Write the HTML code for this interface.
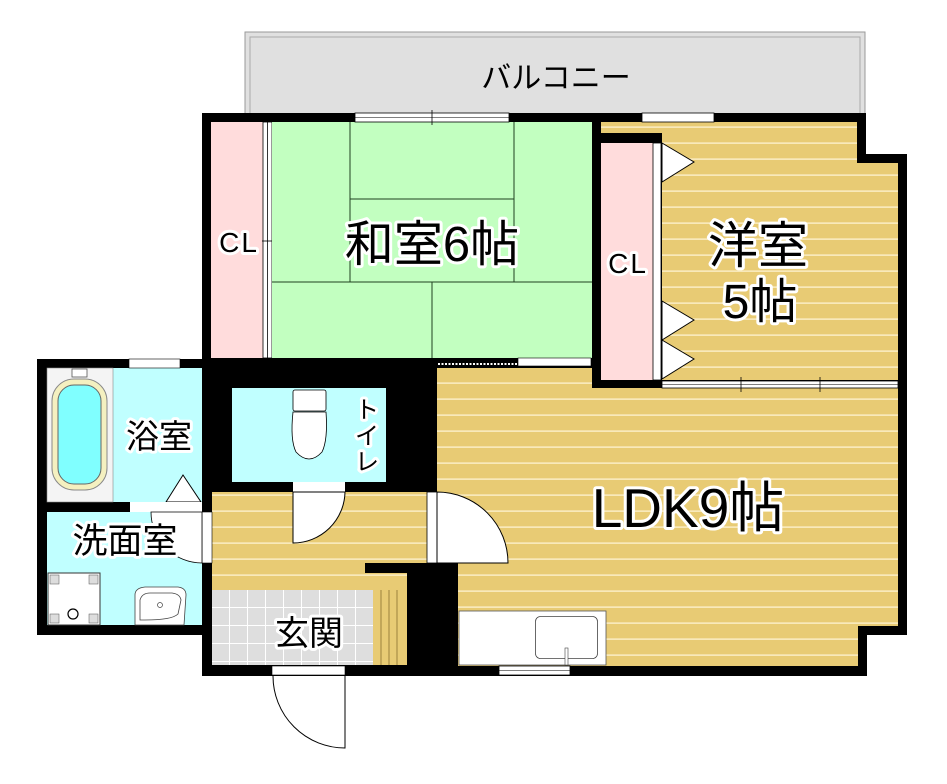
<!DOCTYPE html>
<html><head><meta charset="utf-8"><style>
html,body{margin:0;padding:0;background:#fff;}
svg{display:block;}
text{font-family:"Liberation Sans","Noto Sans CJK JP",sans-serif;paint-order:stroke;stroke:#fff;stroke-width:6px;stroke-linejoin:round;fill:#000;}
</style></head><body>
<svg width="947" height="784" viewBox="0 0 947 784" xmlns="http://www.w3.org/2000/svg">
<defs>
<pattern id="wood" patternUnits="userSpaceOnUse" width="20" height="16">
<rect width="20" height="16" fill="#e8cb74"/><rect y="14.5" width="20" height="1.2" fill="#fff6d8"/>
</pattern>
<pattern id="tile" patternUnits="userSpaceOnUse" x="212" y="590" width="18" height="18">
<rect width="18" height="18" fill="#dedede"/><rect x="17" width="1.2" height="18" fill="#fff"/><rect y="17" width="18" height="1.2" fill="#fff"/>
</pattern>
</defs>
<!-- balcony -->
<rect x="245" y="32" width="620" height="84" fill="#e0e0e0" stroke="#999" stroke-width="1"/>
<rect x="250" y="37" width="610" height="80" fill="#e0e0e0" stroke="#aaa" stroke-width="1"/>
<text x="556" y="88" font-size="30" text-anchor="middle" style="stroke-width:0">バルコニー</text>

<!-- black base shapes (walls) -->
<rect x="202" y="113" width="400" height="255" fill="#000"/>
<rect x="592" y="113" width="274" height="50" fill="#000"/>
<rect x="592" y="154" width="315" height="240" fill="#000"/>
<rect x="37" y="359" width="175" height="276" fill="#000"/>
<rect x="202" y="359" width="705" height="276" fill="#000"/>
<rect x="202" y="620" width="665" height="56" fill="#000"/>

<!-- Japanese room -->
<rect x="211" y="122" width="52" height="236" fill="#ffdcdc"/>
<rect x="263" y="122" width="9" height="236" fill="#fff" stroke="#000" stroke-width="0.8"/>
<line x1="267.5" y1="122" x2="267.5" y2="358" stroke="#000" stroke-width="0.8"/>
<line x1="262" y1="241" x2="277" y2="241" stroke="#000" stroke-width="0.8"/>
<rect x="272" y="122" width="320" height="236" fill="#c2ffc0"/>
<g stroke="#204020" stroke-width="1">
<line x1="350" y1="122" x2="350" y2="282"/><line x1="514" y1="122" x2="514" y2="282"/>
<line x1="350" y1="199" x2="514" y2="199"/><line x1="272" y1="282" x2="592" y2="282"/>
<line x1="432" y1="282" x2="432" y2="358"/>
</g>
<rect x="355" y="113" width="154" height="9" fill="#fff" stroke="#000" stroke-width="0.8"/>
<line x1="355" y1="117.5" x2="509" y2="117.5" stroke="#000" stroke-width="0.6"/>
<line x1="432" y1="110" x2="432" y2="125" stroke="#000" stroke-width="0.8"/>
<rect x="518" y="358" width="73" height="8" fill="#fff" stroke="#000" stroke-width="0.6"/>
<line x1="438" y1="364" x2="517" y2="364" stroke="#fff" stroke-width="2" stroke-dasharray="2,1.5"/>

<!-- LDK -->
<rect x="437" y="368" width="155" height="20" fill="url(#wood)"/>
<rect x="437" y="388" width="461" height="175" fill="url(#wood)"/>
<rect x="458" y="563" width="440" height="63" fill="url(#wood)"/>
<rect x="458" y="626" width="400" height="40" fill="url(#wood)"/>
<rect x="459" y="611" width="147" height="54" fill="#fff" stroke="#555" stroke-width="0.8"/>
<rect x="535.5" y="616.5" width="62" height="42" rx="5" fill="#fff" stroke="#444" stroke-width="0.8"/>
<rect x="565" y="648" width="3" height="17" fill="#fff" stroke="#444" stroke-width="0.6"/>
<rect x="499" y="666" width="71" height="9" fill="#fff" stroke="#000" stroke-width="0.8"/>
<line x1="499" y1="670.5" x2="570" y2="670.5" stroke="#000" stroke-width="0.6"/>

<!-- Western room -->
<rect x="601" y="122" width="256" height="11" fill="url(#wood)"/>
<rect x="662" y="133" width="195" height="247" fill="url(#wood)"/>
<rect x="857" y="163" width="41" height="217" fill="url(#wood)"/>
<rect x="601" y="143" width="52" height="237" fill="#ffdcdc"/>
<rect x="653" y="143" width="8" height="237" fill="#fff" stroke="#000" stroke-width="0.8"/>
<g fill="#fff" stroke="#000" stroke-width="1">
<polygon points="662,143 694,162 662,182"/>
<polygon points="662,301 694,320 662,340"/>
<polygon points="662,340 694,359 662,379"/>
</g>
<rect x="642" y="113" width="72" height="9" fill="#fff" stroke="#000" stroke-width="0.8"/>
<rect x="662" y="381" width="236" height="7" fill="#fff" stroke="#000" stroke-width="0.8"/>
<line x1="662" y1="384.5" x2="898" y2="384.5" stroke="#000" stroke-width="0.6"/>
<line x1="741" y1="377" x2="741" y2="392" stroke="#000" stroke-width="0.8"/>
<line x1="820" y1="377" x2="820" y2="392" stroke="#000" stroke-width="0.8"/>

<!-- Hall -->
<rect x="212" y="492" width="215" height="71" fill="url(#wood)"/>
<rect x="212" y="563" width="195" height="27" fill="url(#wood)"/>
<rect x="365" y="563" width="42" height="10" fill="#000"/>
<rect x="427" y="492" width="10" height="71" fill="#fff" stroke="#000" stroke-width="0.8"/>
<path d="M437,492 A71,71 0 0 1 508,563 L437,563 Z" fill="#fff" stroke="#000" stroke-width="1"/>
<!-- toilet -->
<rect x="232" y="388" width="154" height="94" fill="#c0ffff"/>
<rect x="293" y="482" width="52" height="10" fill="#fff"/>
<path d="M293,492 L293,543 A52,52 0 0 0 345,492 Z" fill="#fff" stroke="#000" stroke-width="1"/>
<rect x="293" y="390" width="33" height="21" rx="2" fill="#fff" stroke="#000" stroke-width="0.8"/>
<path d="M293,412 Q290,440 296,452 Q309,466 322,452 Q328,440 326,412 Z" fill="#fff" stroke="#000" stroke-width="0.8"/>

<!-- Genkan -->
<rect x="212" y="590" width="161" height="75" fill="url(#tile)"/>
<rect x="373" y="590" width="34" height="75" fill="#e8cb74"/>
<g stroke="#8a7030" stroke-width="0.8"><line x1="381" y1="590" x2="381" y2="665"/><line x1="389" y1="590" x2="389" y2="665"/><line x1="397" y1="590" x2="397" y2="665"/></g>
<rect x="272" y="666" width="73" height="9" fill="#fff" stroke="#000" stroke-width="0.6"/>
<path d="M345,676 L345,748 A72,72 0 0 1 273,676" fill="#fff" stroke="#000" stroke-width="1"/>

<!-- Bath -->
<rect x="47" y="368" width="155" height="134" fill="#c0ffff"/>
<rect x="47" y="368" width="66" height="134" fill="#f4f4f4" stroke="#888" stroke-width="0.6"/>
<rect x="52" y="379" width="55" height="111" rx="22" fill="#f4f0c0" stroke="#888" stroke-width="1"/>
<rect x="58" y="385" width="43" height="99" rx="16" fill="#80ffff" stroke="#666" stroke-width="1"/>
<rect x="72" y="369" width="15" height="8" fill="#fff" stroke="#555" stroke-width="0.8"/>
<rect x="129" y="359" width="51" height="9" fill="#fff" stroke="#000" stroke-width="0.6"/>
<polygon points="166,502 183,475 201,502" fill="#fff" stroke="#000" stroke-width="1"/>
<rect x="130" y="502" width="72" height="10" fill="#fff"/>
<!-- Washroom -->
<rect x="47" y="512" width="155" height="113" fill="#c0ffff"/>
<rect x="202" y="512" width="10" height="51" fill="#fff" stroke="#000" stroke-width="0.6"/>
<path d="M151,512 A51,51 0 0 0 202,563 L202,512 Z" fill="#fff" stroke="#000" stroke-width="0.8"/>
<rect x="48" y="573" width="52" height="52" fill="#fff" stroke="#333" stroke-width="1"/>
<g fill="#ddd" stroke="#555" stroke-width="0.5"><rect x="50" y="575" width="9" height="9"/><rect x="89" y="575" width="9" height="9"/><rect x="50" y="614" width="9" height="9"/><rect x="89" y="614" width="9" height="9"/></g>
<circle cx="73" cy="614" r="5" fill="#fff" stroke="#000" stroke-width="1.2"/>
<path d="M135,625 L135,595 Q135,588 145,587 L178,587 Q186,588 186,595 L184,625 Z" fill="#fff" stroke="#444" stroke-width="0.8"/>
<path d="M140,620 L140,600 Q142,593 150,593 L172,593 Q180,594 181,600 L178,614 Q172,620 145,620 Z" fill="#fff" stroke="#444" stroke-width="0.8"/>
<circle cx="160" cy="605" r="2.5" fill="#fff" stroke="#444" stroke-width="0.7"/>

<!-- Labels -->
<text x="432" y="261" font-size="49" text-anchor="middle">和室6帖</text>
<text x="239" y="252" font-size="28" letter-spacing="2" text-anchor="middle">CL</text>
<text x="628" y="273" font-size="28" letter-spacing="2" text-anchor="middle">CL</text>
<text x="758" y="263" font-size="50" text-anchor="middle">洋室</text>
<text x="760" y="318" font-size="48" text-anchor="middle">5帖</text>
<text x="688" y="527" font-size="55" text-anchor="middle">LDK9帖</text>
<text x="159" y="448" font-size="33" text-anchor="middle">浴室</text>
<text x="125" y="553" font-size="35" text-anchor="middle">洗面室</text>
<text x="309" y="645" font-size="34" text-anchor="middle">玄関</text>
<text x="367" y="418" font-size="24" text-anchor="middle">ト</text>
<text x="367" y="444" font-size="24" text-anchor="middle">イ</text>
<text x="367" y="470" font-size="24" text-anchor="middle">レ</text>
</svg>
</body></html>
